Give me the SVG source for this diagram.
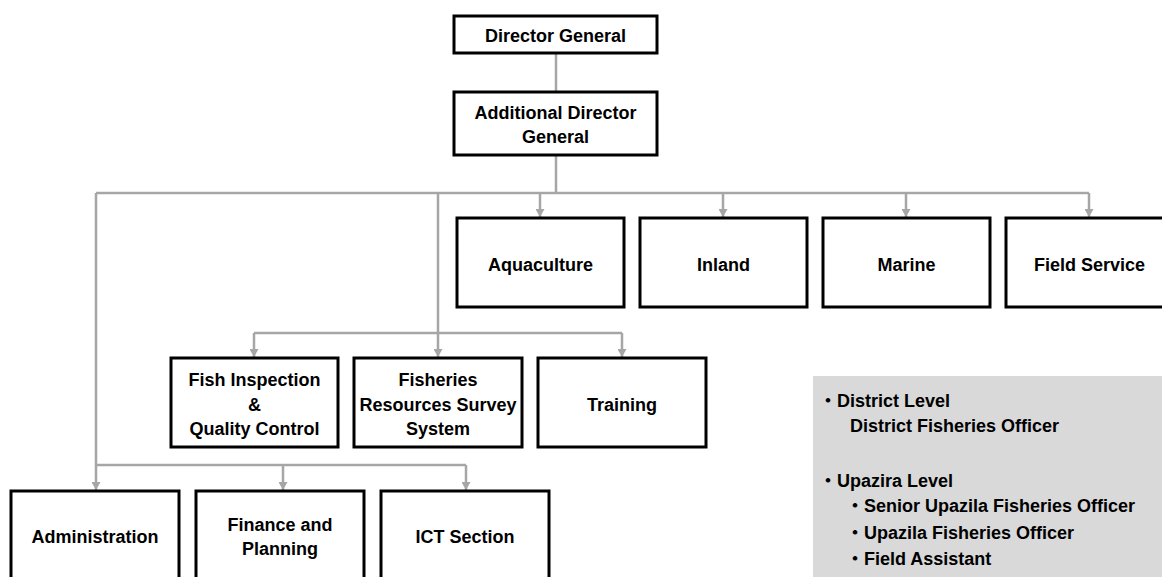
<svg xmlns="http://www.w3.org/2000/svg" width="1162" height="577" viewBox="0 0 1162 577">
<style>
.box{fill:#fff;stroke:#000;stroke-width:3}
.t{font-family:"Liberation Sans",Arial,sans-serif;font-weight:bold;font-size:18px;fill:#000;text-anchor:middle}
.lg{font-family:"Liberation Sans",Arial,"Noto Sans CJK JP",sans-serif;font-weight:bold;font-size:18px;fill:#000}
.c{fill:none;stroke:#A6A6A6;stroke-width:2.5}
.a{marker-end:url(#arr)}
</style>
<defs>
<marker id="arr" markerUnits="userSpaceOnUse" markerWidth="9" markerHeight="9" refX="8" refY="4.5" orient="auto">
<path d="M0,0 L8,4.5 L0,9 z" fill="#A6A6A6"/>
</marker>
</defs>
<rect width="1162" height="577" fill="#fff"/>
<g id="connectors">
<path class="c" d="M556,53 V92"/>
<path class="c" d="M556,155 V193"/>
<path class="c" d="M96,193 H1089"/>
<path class="c a" d="M540,193 V217"/>
<path class="c a" d="M723,193 V217"/>
<path class="c a" d="M906,193 V217"/>
<path class="c a" d="M1089,193 V217"/>
<path class="c a" d="M438,193 V357"/>
<path class="c" d="M254,333 H622"/>
<path class="c a" d="M254,333 V357"/>
<path class="c a" d="M622,333 V357"/>
<path class="c a" d="M96,193 V490"/>
<path class="c" d="M96,465 H466"/>
<path class="c a" d="M283,465 V490"/>
<path class="c a" d="M466,465 V490"/>
</g>
<g id="director-general"><rect class="box" x="454" y="16" width="203" height="37"/><text class="t" x="555.5" y="41.5">Director General</text></g>
<g id="additional-director-general"><rect class="box" x="454" y="92" width="203" height="63"/><text class="t" x="555.5" y="119">Additional Director</text><text class="t" x="555.5" y="143">General</text></g>
<g id="aquaculture"><rect class="box" x="457" y="218" width="167" height="89"/><text class="t" x="540.5" y="270.5">Aquaculture</text></g>
<g id="inland"><rect class="box" x="640" y="218" width="167" height="89"/><text class="t" x="723.5" y="270.5">Inland</text></g>
<g id="marine"><rect class="box" x="823" y="218" width="167" height="89"/><text class="t" x="906.5" y="270.5">Marine</text></g>
<g id="field-service"><rect class="box" x="1006" y="218" width="167" height="89"/><text class="t" x="1089.5" y="270.5">Field Service</text></g>
<g id="fish-inspection"><rect class="box" x="171" y="358" width="167" height="89"/><text class="t" x="254.5" y="386">Fish Inspection</text><text class="t" x="254.5" y="410.5">&amp;</text><text class="t" x="254.5" y="435">Quality Control</text></g>
<g id="fisheries-resources"><rect class="box" x="354" y="358" width="168" height="89"/><text class="t" x="438" y="386">Fisheries</text><text class="t" x="438" y="410.5">Resources Survey</text><text class="t" x="438" y="435">System</text></g>
<g id="training"><rect class="box" x="538" y="358" width="168" height="89"/><text class="t" x="622" y="410.5">Training</text></g>
<g id="administration"><rect class="box" x="11" y="491" width="168" height="89"/><text class="t" x="95" y="543">Administration</text></g>
<g id="finance-planning"><rect class="box" x="196" y="491" width="168" height="89"/><text class="t" x="280" y="530.5">Finance and</text><text class="t" x="280" y="554.5">Planning</text></g>
<g id="ict-section"><rect class="box" x="381" y="491" width="168" height="89"/><text class="t" x="465" y="543">ICT Section</text></g>
<g id="legend">
<rect x="813" y="376" width="349" height="201" fill="#D9D9D9"/>
<text class="lg" x="819" y="406.5">・District Level</text>
<text class="lg" x="850" y="431.5">District Fisheries Officer</text>
<text class="lg" x="819" y="486.5">・Upazira Level</text>
<text class="lg" x="846" y="512">・Senior Upazila Fisheries Officer</text>
<text class="lg" x="846" y="539">・Upazila Fisheries Officer</text>
<text class="lg" x="846" y="565">・Field Assistant</text>
</g>
</svg>
